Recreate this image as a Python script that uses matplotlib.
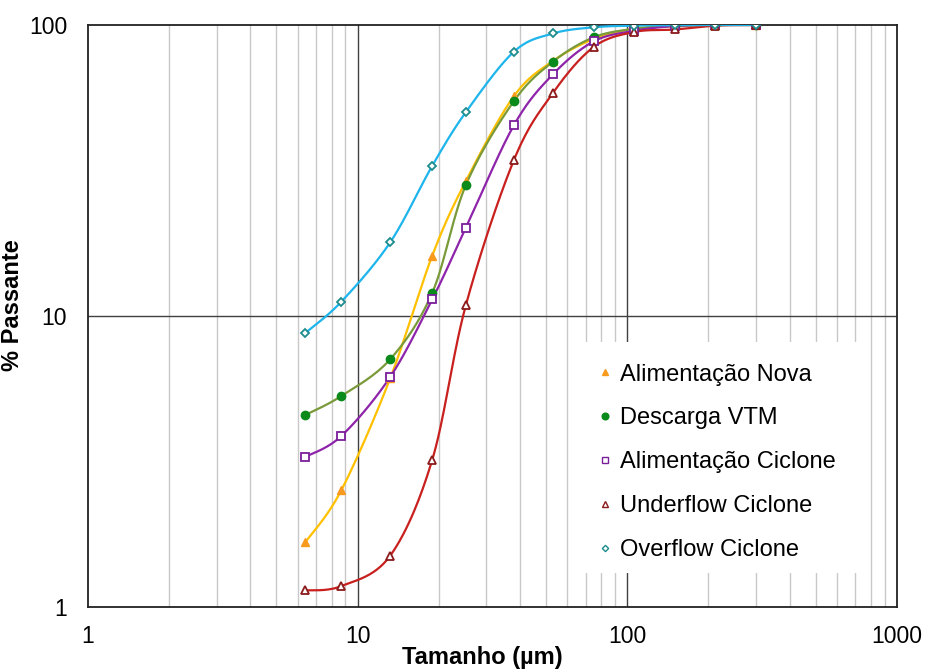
import numpy as np
import matplotlib.pyplot as plt
from matplotlib.lines import Line2D
from matplotlib.patches import Rectangle

plt.rcParams['font.family'] = ['Liberation Sans', 'DejaVu Sans']

# Particle size (um)
sizes = [6.4, 8.7, 13.2, 18.9, 25.2, 38, 53, 75, 106, 150, 212, 300]

# % passing per stream
nova = [1.67, 2.52, 6.1, 16.1, 29.1, 57, 75.2, 89.5, 97, 99, 100, 100]
vtm = [4.57, 5.31, 7.1, 12.0, 28.2, 54.8, 74.8, 90.7, 97, 99.3, 100, 100]
ciclone = [3.28, 3.87, 6.17, 11.4, 20.1, 45.3, 67.7, 87.8, 95.5, 99.2, 100, 100]
underflow = [1.14, 1.18, 1.50, 3.2, 10.9, 34.4, 58.4, 84, 94.6, 96.5, 99.5, 100]
overflow = [8.74, 11.2, 17.9, 32.8, 50.2, 81, 93.5, 98.2, 99.5, 99.8, 100, 100]

labels = ["Alimentação Nova", "Descarga VTM", "Alimentação Ciclone",
          "Underflow Ciclone", "Overflow Ciclone"]


def smooth(x, y, n=30):
    # Excel-style smoothed line (cubic Bezier through points), in log space
    lx = np.log10(x)
    ly = np.log10(y)
    px = np.concatenate([[lx[0]], lx, [lx[-1]]])
    py = np.concatenate([[ly[0]], ly, [ly[-1]]])
    outx, outy = [], []
    t = np.linspace(0, 1, n)
    for i in range(1, len(px) - 2):
        p0 = np.array([px[i], py[i]])
        p3 = np.array([px[i + 1], py[i + 1]])
        c1 = p0 + (np.array([px[i + 1], py[i + 1]]) - np.array([px[i - 1], py[i - 1]])) / 6
        c2 = p3 - (np.array([px[i + 2], py[i + 2]]) - np.array([px[i], py[i]])) / 6
        b = ((1 - t) ** 3)[:, None] * p0 + (3 * (1 - t) ** 2 * t)[:, None] * c1 \
            + (3 * (1 - t) * t ** 2)[:, None] * c2 + (t ** 3)[:, None] * p3
        outx.extend(b[:, 0])
        outy.extend(b[:, 1])
    return 10 ** np.array(outx), 10 ** np.array(outy)


fig = plt.figure(figsize=(9.27, 6.70), dpi=100)
ax = fig.add_axes([0.0949, 0.094, 0.8727, 0.8687])

styles = [
    (nova, "#FFC000", dict(marker="^", color="#F79A1E", markersize=6, mfc="#F79A1E", mec="#F79A1E")),
    (vtm, "#7A9A3A", dict(marker="o", color="#0A8A1A", markersize=6, mfc="#0A8A1A", mec="#0A8A1A")),
    (ciclone, "#8E24AA", dict(marker="s", color="#7A1F9A", markersize=5.5, mfc="white", mec="#7A1F9A", mew=1.3)),
    (underflow, "#C8201E", dict(marker="^", color="#8B1A1A", markersize=5.5, mfc="white", mec="#8B1A1A", mew=1.3)),
    (overflow, "#1EB4EC", dict(marker="D", color="#1C8C8C", markersize=4, mfc="white", mec="#1C8C8C", mew=1.3)),
]

handles = []
for (vals, lc, mk), lab in zip(styles, labels):
    sx, sy = smooth(sizes, vals)
    ax.plot(sx, sy, color=lc, lw=1.6, zorder=3)
    ax.plot(sizes, vals, linestyle="none", zorder=4, **mk)
    h = dict(mk)
    h["markersize"] = mk["markersize"] * 0.8
    h["mew"] = 1.0
    handles.append(Line2D([], [], linestyle="none", label=lab, **h))

ax.set_xscale("log")
ax.set_yscale("log")
ax.set_xlim(1, 1000)
ax.set_ylim(1, 100)

ax.set_xticks([1, 10, 100, 1000])
ax.set_xticklabels(["1", "10", "100", "1000"])
ax.set_yticks([1, 10, 100])
ax.set_yticklabels(["1", "10", "100"])
ax.minorticks_off()
ax.tick_params(length=0, labelsize=16.5)
ax.tick_params(axis="x", pad=13)
ax.tick_params(axis="y", pad=15)

# gridlines
for dec in [1, 10, 100]:
    for k in range(2, 10):
        ax.axvline(dec * k, color="#C8C8C8", lw=1, zorder=1)
for v in [10, 100]:
    ax.axvline(v, color="#404040", lw=1, zorder=1.5)
ax.axhline(10, color="#404040", lw=1, zorder=1.5)

for s in ax.spines.values():
    s.set_color("#222222")
    s.set_linewidth(1.3)

ax.set_xlabel("Tamanho (µm)", fontsize=17, fontweight="bold")
ax.set_ylabel("% Passante", fontsize=17, fontweight="bold")
ax.xaxis.set_label_coords(0.488, -0.067)
ax.yaxis.set_label_coords(-0.079, 0.519)

# white legend background
ax.add_patch(Rectangle((0.599, 0.058), 0.366, 0.397, transform=ax.transAxes,
                       facecolor="white", edgecolor="none", zorder=2))

leg = ax.legend(handles=handles, loc="upper left", bbox_to_anchor=(0.598, 0.463),
                fontsize=17, frameon=False, handlelength=0.6, handletextpad=0.35,
                labelspacing=0.93, borderpad=0.6)
leg.set_zorder(5)

fig.savefig("out.png", dpi=100)
